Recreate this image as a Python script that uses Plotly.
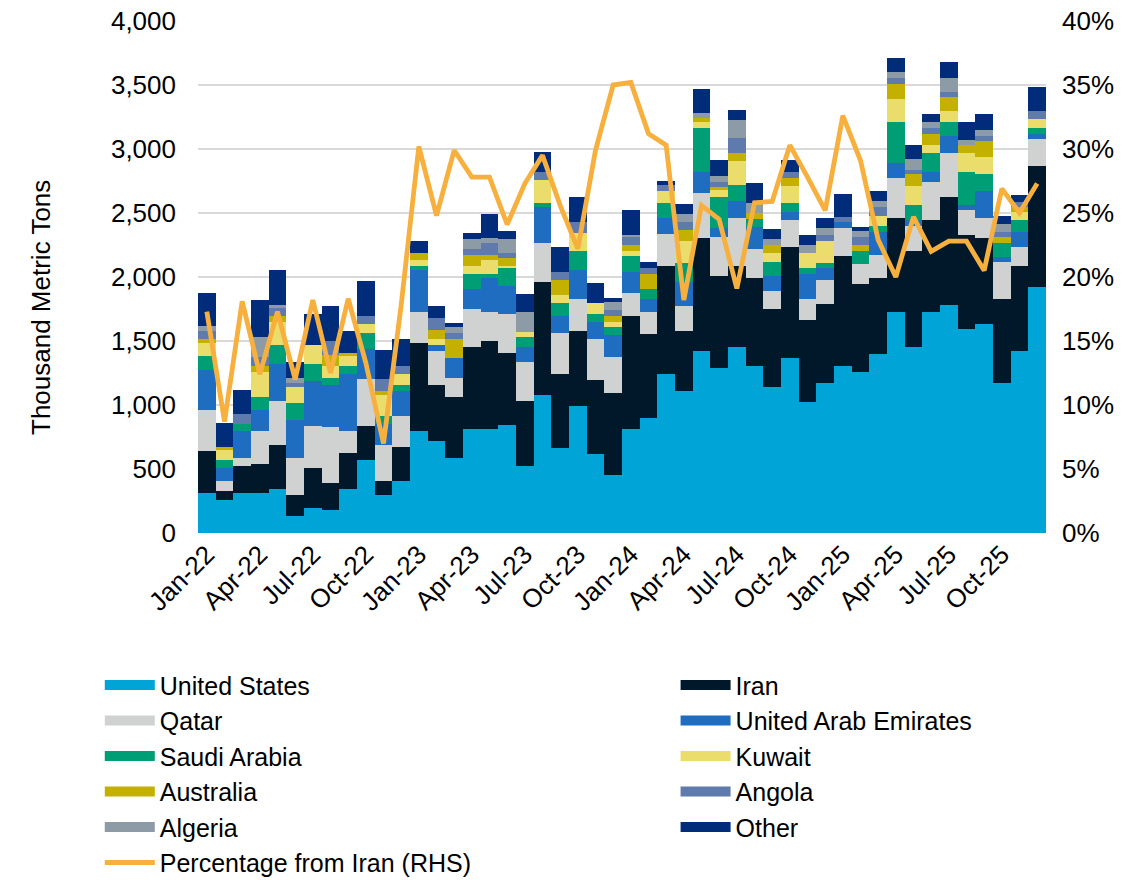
import plotly.graph_objects as go

months = [f"{m}-{y}" for y in ["22", "23", "24", "25"] for m in
          ["Jan", "Feb", "Mar", "Apr", "May", "Jun", "Jul", "Aug", "Sep", "Oct", "Nov", "Dec"]]

united_states = [315, 258, 315, 315, 344, 133, 198, 180, 344, 570, 297, 406,
                 799, 721, 589, 810, 810, 844, 523, 1078, 667, 992, 617, 453,
                 810, 901, 1242, 1112, 1422, 1292, 1456, 1305, 1143, 1370, 1026, 1174,
                 1305, 1260, 1398, 1726, 1456, 1726, 1781, 1591, 1633, 1174, 1422, 1924]
iran = [326, 73, 208, 224, 343, 164, 312, 213, 284, 268, 109, 268,
        688, 435, 476, 646, 690, 565, 508, 883, 575, 586, 578, 643,
        885, 654, 844, 466, 880, 716, 630, 690, 607, 862, 638, 615,
        859, 685, 597, 735, 750, 719, 841, 737, 669, 654, 664, 946]
qatar = [320, 75, 66, 260, 344, 292, 328, 432, 172, 362, 281, 240,
         239, 266, 148, 294, 226, 302, 302, 307, 323, 250, 321, 282,
         182, 171, 250, 195, 357, 302, 372, 221, 141, 213, 161, 187,
         216, 156, 177, 312, 195, 300, 344, 195, 156, 289, 151, 208]
uae = [312, 104, 210, 162, 289, 294, 352, 331, 443, 235, 165, 198,
       329, 47, 157, 154, 263, 221, 117, 279, 130, 227, 135, 169,
       165, 99, 127, 190, 161, 70, 136, 172, 117, 60, 198, 92,
       47, 0, 179, 115, 44, 78, 135, 39, 214, 42, 117, 39]
saudi_arabia = [110, 60, 55, 99, 149, 135, 130, 57, 63, 125, 62, 44,
                31, 0, 0, 119, 34, 141, 78, 34, 99, 151, 60, 65,
                122, 79, 118, 144, 347, 247, 125, 62, 109, 70, 45, 39,
                0, 102, 47, 323, 117, 148, 107, 256, 133, 109, 91, 50]
kuwait = [104, 78, 0, 200, 182, 125, 149, 92, 78, 73, 164, 86,
          47, 47, 0, 63, 110, 13, 39, 177, 65, 135, 83, 39,
          42, 0, 91, 177, 41, 58, 187, 0, 73, 138, 122, 174,
          0, 0, 78, 179, 151, 60, 89, 153, 135, 0, 65, 65]
australia = [29, 24, 0, 45, 44, 0, 0, 86, 26, 0, 34, 0,
             52, 70, 146, 86, 39, 65, 0, 0, 117, 0, 0, 47,
             44, 119, 0, 83, 37, 15, 60, 47, 57, 63, 0, 0,
             0, 47, 0, 118, 92, 86, 106, 60, 122, 47, 39, 0]
angola = [62, 0, 76, 73, 65, 31, 0, 109, 0, 62, 88, 63,
          0, 91, 49, 47, 96, 34, 0, 65, 60, 91, 0, 44,
          65, 45, 47, 65, 0, 39, 117, 0, 0, 42, 0, 47,
          44, 65, 73, 49, 31, 50, 40, 0, 39, 36, 39, 67]
algeria = [39, 0, 0, 156, 21, 39, 0, 0, 0, 0, 0, 0,
           0, 0, 47, 78, 34, 112, 158, 0, 0, 0, 0, 65,
           13, 0, 0, 60, 33, 50, 143, 78, 50, 0, 60, 52,
           0, 44, 45, 47, 86, 41, 114, 39, 47, 63, 0, 0]
other = [260, 187, 187, 286, 274, 123, 242, 273, 169, 274, 230, 208,
         96, 96, 31, 49, 190, 62, 141, 153, 201, 195, 162, 31,
         195, 46, 31, 78, 191, 125, 78, 157, 75, 96, 78, 78,
         177, 34, 78, 109, 109, 63, 122, 138, 125, 62, 52, 188]
pct_from_iran = [17.3, 8.7, 18.1, 12.4, 17.3, 12.0, 18.2, 12.5, 18.3, 13.3, 7.0, 17.8,
                 30.2, 24.8, 29.9, 27.8, 27.8, 24.1, 27.3, 29.5, 25.6, 22.2, 29.9, 35.0,
                 35.2, 31.2, 30.3, 18.2, 25.6, 24.5, 19.1, 25.8, 25.9, 30.3, 27.8, 25.2,
                 32.6, 29.1, 22.9, 20.0, 24.7, 22.0, 22.8, 22.8, 20.5, 26.9, 25.0, 27.3]

tick_labels = months[::3]
y_title = "Thousand Metric Tons"

# (name, values, colour, legend column)
series = [
    ("United States", united_states, "#00A4D6", "legend"),
    ("Iran", iran, "#01182B", "legend2"),
    ("Qatar", qatar, "#D0D2D2", "legend"),
    ("United Arab Emirates", uae, "#1E6DC0", "legend2"),
    ("Saudi Arabia", saudi_arabia, "#009E74", "legend"),
    ("Kuwait", kuwait, "#EADD6C", "legend2"),
    ("Australia", australia, "#C3B000", "legend"),
    ("Angola", angola, "#5F7AAC", "legend2"),
    ("Algeria", algeria, "#8C9BA6", "legend"),
    ("Other", other, "#002C79", "legend2"),
]
LINE_NAME = "Percentage from Iran (RHS)"
LINE_COLOR = "#F7B03D"

FONT = "Liberation Sans, Arial, sans-serif"

fig = go.Figure()
for name, vals, color, lg in series:
    fig.add_trace(go.Bar(x=months, y=vals, name=name, legendgroup=name, showlegend=False,
                         marker=dict(color=color, line=dict(width=0))))

fig.add_trace(go.Scatter(x=months, y=[v / 100 for v in pct_from_iran], name=LINE_NAME,
                         legendgroup=LINE_NAME, showlegend=False,
                         mode="lines", line=dict(color=LINE_COLOR, width=4.8), yaxis="y2"))

# legend entries (wide colour keys like the original)
for name, vals, color, lg in series:
    fig.add_trace(go.Scatter(x=[None], y=[None], name=name, legendgroup=name, legend=lg,
                             mode="lines", line=dict(color=color, width=16), hoverinfo="skip"))
fig.add_trace(go.Scatter(x=[None], y=[None], name=LINE_NAME, legendgroup=LINE_NAME, legend="legend",
                         mode="lines", line=dict(color=LINE_COLOR, width=5), hoverinfo="skip"))

legend_common = dict(orientation="v", xref="container", yref="container", yanchor="top",
                     xanchor="left", font=dict(size=25), traceorder="grouped", tracegroupgap=0,
                     itemwidth=50, bgcolor="rgba(0,0,0,0)")

fig.update_layout(
    width=1147, height=880,
    barmode="stack", bargap=0,
    plot_bgcolor="white", paper_bgcolor="white",
    margin=dict(l=198, r=101, t=21, b=347, autoexpand=False),
    font=dict(family=FONT, size=26, color="#000000"),
    xaxis=dict(type="category", tickmode="array", tickvals=tick_labels, ticktext=tick_labels,
               tickangle=-45, showgrid=False, showline=False, ticks="", automargin=False,
               tickfont=dict(size=26), range=[-0.5, len(months) - 0.5]),
    yaxis=dict(range=[0, 4000], dtick=500, tickformat=",", showgrid=True, gridcolor="#D9D9D9",
               gridwidth=1.5, zeroline=False, showline=False, ticks="", automargin=False,
               ticklabelstandoff=21, ticklabeloverflow="allow", tickfont=dict(size=26)),
    yaxis2=dict(range=[0, 0.4], dtick=0.05, tickformat=".0%", overlaying="y", side="right",
                showgrid=False, zeroline=False, showline=False, ticks="", automargin=False,
                ticklabelstandoff=15, ticklabeloverflow="allow", tickfont=dict(size=26)),
    legend=dict(x=0.087, y=0.2475, **legend_common),
    legend2=dict(x=0.589, y=0.2475, **legend_common),
    annotations=[dict(text=y_title, textangle=-90, xref="paper", yref="paper",
                      x=(41 - 198) / 848, y=(533 - 308) / 512, xanchor="center", yanchor="middle",
                      showarrow=False, font=dict(size=26))],
)

fig.write_html("out.html", config={"displayModeBar": False},
               post_script="document.body.style.margin='0';")
